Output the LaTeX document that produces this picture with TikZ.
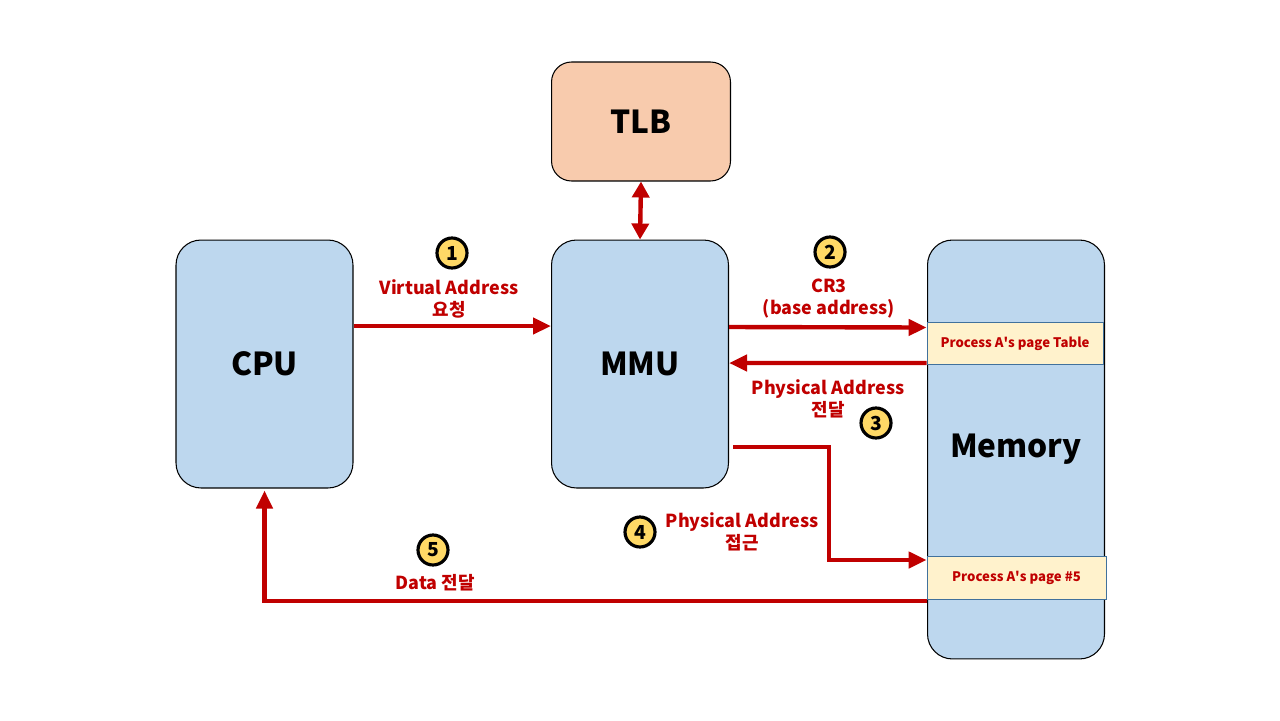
\documentclass[tikz,border=0pt]{standalone}
\usepackage{fontspec}
\setmainfont{Noto Sans CJK KR}
\usetikzlibrary{arrows.meta}

\definecolor{flowred}{HTML}{C00000}
\definecolor{unitblue}{HTML}{BDD7EE}
\definecolor{tlbpeach}{HTML}{F8CBAD}
\definecolor{stepyellow}{HTML}{FFD966}
\definecolor{pagecream}{HTML}{FFF2CC}
\definecolor{pageedge}{HTML}{41719C}

\begin{document}
\begin{tikzpicture}[x=0.02cm, y=-0.02cm,
		unit/.style={draw=black, line width=0.6pt, fill=unitblue, rounded corners=0.5cm,
			minimum width=3.54cm, font=\bfseries\fontsize{18}{22}\selectfont},
		pagebox/.style={draw=pageedge, line width=0.5pt, fill=pagecream, minimum height=0.85cm,
			text=flowred, font=\bfseries\fontsize{7.5}{9}\selectfont},
		stepno/.style={circle, draw=black, line width=1.8pt, fill=stepyellow, minimum size=0.6cm,
			inner sep=0pt, font=\bfseries\fontsize{11}{12}\selectfont},
		flowtext/.style={align=center, text=flowred, font=\bfseries\fontsize{10.2}{12.5}\selectfont},
		flow/.style={draw=flowred, line width=2.5pt, -{Triangle[length=0.36cm, width=0.32cm]}}]

				\useasboundingbox (0,0) rectangle (1280,720);

				% the units
				\node[unit, minimum height=4.96cm] (cpu) at (264.5,364) {CPU};
				\node[unit, minimum height=4.96cm] (mmu) at (640,364) {MMU};
				\node[unit, minimum height=8.38cm] (mem) at (1016,449.5) {Memory};
				\node[unit, fill=tlbpeach, rounded corners=0.4cm, minimum width=3.58cm, minimum height=2.38cm] (tlb) at (641,121.5) {TLB};

				% pages inside the memory
				\node[pagebox, minimum width=3.52cm] (ptable) at (1015,343.5) {Process A\textquotesingle s page Table};
				\node[pagebox, minimum width=3.58cm] (page5) at (1016.5,578) {Process A\textquotesingle s page \#5};

				% connectors
				\draw[flow, {Triangle[length=0.32cm, width=0.34cm]}-{Triangle[length=0.32cm, width=0.34cm]}] (tlb.south) -- (mmu.north);
				\draw[flow] ([yshift=0.76cm]cpu.east) -- ([yshift=0.76cm]mmu.west);
				\draw[flow] ([yshift=0.74cm]mmu.east) -- ([yshift=0.32cm]ptable.west);
				\draw[flow] ([yshift=-0.39cm]ptable.west) -- ([yshift=0.02cm]mmu.east);
				\draw[flow] ([xshift=0.08cm, yshift=-1.66cm]mmu.east) -- ++(1.92cm,0) |- ([yshift=0.36cm]page5.west);
				\draw[flow, shorten >=0.04cm] ([yshift=-0.46cm]page5.west) -| (cpu.south);

				% step numbers
				\node[stepno] (s1) at (452,253) {1};
				\node[stepno] (s2) at (830,252) {2};
				\node[stepno] (s3) at (876,423) {3};
				\node[stepno] (s4) at (640,532) {4};
				\node[stepno] (s5) at (433,550) {5};

				% labels
				\node[flowtext] (t1) at (449,299) {Virtual Address\\요청};
				\node[flowtext] (t2) at (829,299) {CR3\\(base address)};
				\node[flowtext] (t3) at (828,399) {Physical Address\\전달};
				\node[flowtext] (t4) at (742,532) {Physical Address\\접근};
				\node[flowtext] (t5) at (435,583) {Data 전달};

			\end{tikzpicture}
\end{document}
